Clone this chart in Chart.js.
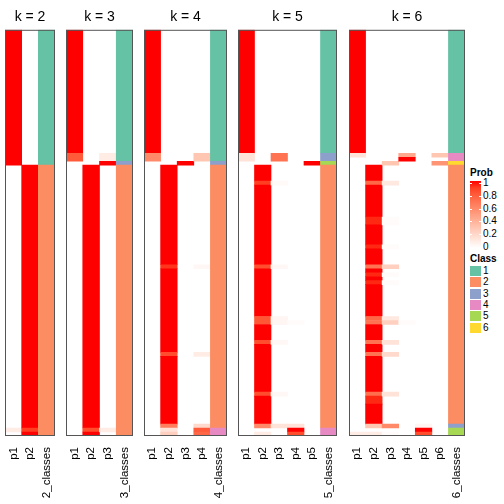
<!DOCTYPE html>
<html>
<head>
<meta charset="utf-8">
<script src="https://cdn.jsdelivr.net/npm/chart.js@4.4.1/dist/chart.umd.min.js"></script>
<style>
body { margin: 0; background: #fff; width: 504px; height: 504px; position: relative; overflow: hidden;
       font-family: "Liberation Sans", Arial, sans-serif; }
canvas { position: absolute; top: 0; }
.lg { position: absolute; font-size: 10px; line-height: 10px; color: #000; white-space: nowrap; }
.lgt { font-weight: bold; }
</style>
</head>
<body>
<canvas id="c2" width="50" height="504" style="left:5px"></canvas>
<canvas id="c3" width="67" height="504" style="left:66px"></canvas>
<canvas id="c4" width="83" height="504" style="left:144px"></canvas>
<canvas id="c5" width="99" height="504" style="left:238px"></canvas>
<canvas id="c6" width="116" height="504" style="left:349px"></canvas>
<div id="legend"></div>
<script>
// rows are samples, top to bottom; each column is a list of [fromRow, toRow, prob]
// rows not listed have prob 0
const nRows = 102

const k2_p1 = [[0, 33, 1], [100, 100, 0.1]]
const k2_p2 = [[34, 99, 1], [100, 100, 0.9], [101, 101, 1]]
const k2_classes = [[0, 33, 1], [34, 101, 2]]

const k3_p1 = [[0, 30, 1], [31, 32, 0.8]]
const k3_p2 = [[34, 99, 1], [100, 100, 0.85], [101, 101, 1]]
const k3_p3 = [[31, 32, 0.1], [33, 33, 1], [100, 100, 0.1]]
const k3_classes = [[0, 32, 1], [33, 33, 3], [34, 101, 2]]

const k4_p1 = [[0, 30, 1], [31, 32, 0.6]]
const k4_p2 = [[34, 58, 1], [59, 59, 0.92], [60, 80, 1], [81, 81, 0.85], [82, 98, 1],
               [99, 99, 0.65], [100, 100, 0.15], [101, 101, 0.25]]
const k4_p3 = [[33, 33, 1]]
const k4_p4 = [[31, 32, 0.3], [59, 59, 0.04], [81, 81, 0.1], [99, 99, 0.2], [100, 100, 0.8], [101, 101, 0.75]]
const k4_classes = [[0, 32, 1], [33, 33, 3], [34, 99, 2], [100, 101, 4]]

const k5_p1 = [[0, 30, 1], [31, 32, 0.15]]
const k5_p2 = [[34, 37, 1], [38, 38, 0.9], [39, 58, 1], [59, 59, 0.85], [60, 71, 1], [72, 73, 0.82],
               [74, 77, 1], [78, 78, 0.85], [79, 90, 1], [91, 91, 0.85], [92, 98, 1], [99, 99, 0.6],
               [101, 101, 0.1]]
const k5_p3 = [[31, 32, 0.7], [38, 38, 0.03], [59, 59, 0.04], [72, 73, 0.05], [78, 78, 0.04],
               [91, 91, 0.04], [99, 99, 0.15]]
const k5_p4 = [[73, 73, 0.02], [99, 99, 0.15], [100, 100, 1], [101, 101, 0.85]]
const k5_p5 = [[33, 33, 1]]
const k5_classes = [[0, 30, 1], [31, 32, 3], [33, 33, 5], [34, 99, 2], [100, 101, 4]]

const k6_p1 = [[0, 30, 1], [31, 31, 0.15], [101, 101, 0.1]]
const k6_p2 = [[34, 37, 1], [38, 38, 0.75], [39, 46, 1], [47, 48, 0.95], [49, 53, 1], [54, 54, 0.95],
               [55, 58, 1], [59, 59, 0.7], [60, 60, 1], [61, 61, 0.95], [62, 62, 1], [63, 63, 0.95],
               [64, 71, 1], [72, 72, 0.75], [73, 73, 0.7], [74, 77, 1], [78, 78, 0.7], [79, 80, 1],
               [81, 81, 0.7], [82, 90, 1], [91, 91, 0.72], [92, 93, 0.95], [94, 98, 1], [99, 99, 0.3],
               [101, 101, 0.1]]
const k6_p3 = [[33, 33, 0.3], [38, 38, 0.12], [47, 48, 0.02], [54, 54, 0.02], [59, 59, 0.25],
               [61, 61, 0.02], [63, 63, 0.02], [72, 72, 0.12], [73, 73, 0.25], [78, 78, 0.15],
               [81, 81, 0.2], [91, 91, 0.15], [99, 99, 0.6], [101, 101, 0.02]]
const k6_p4 = [[31, 31, 0.45], [32, 32, 1], [73, 73, 0.02]]
const k6_p5 = [[99, 99, 0.05], [100, 100, 1], [101, 101, 0.85]]
const k6_p6 = [[31, 31, 0.3], [33, 33, 0.55]]
const k6_classes = [[0, 30, 1], [31, 32, 4], [33, 33, 6], [34, 98, 2], [99, 99, 3], [100, 101, 5]]

const classColors = ['#66C2A5', '#FC8D62', '#8DA0CB', '#E78AC3', '#A6D854', '#FFD92F']
const classLabels = ['1', '2', '3', '4', '5', '6']
const probTicks = ['1', '0.8', '0.6', '0.4', '0.2', '0']

const panels = [
    { k: 2, id: 'c2', probs: [k2_p1, k2_p2], classes: k2_classes },
    { k: 3, id: 'c3', probs: [k3_p1, k3_p2, k3_p3], classes: k3_classes },
    { k: 4, id: 'c4', probs: [k4_p1, k4_p2, k4_p3, k4_p4], classes: k4_classes },
    { k: 5, id: 'c5', probs: [k5_p1, k5_p2, k5_p3, k5_p4, k5_p5], classes: k5_classes },
    { k: 6, id: 'c6', probs: [k6_p1, k6_p2, k6_p3, k6_p4, k6_p5, k6_p6], classes: k6_classes }
]

// white -> red, interpolated in LAB like colorRamp2
function labToRgb(L, a, b) {
    const fy = (L + 16) / 116, fx = fy + a / 500, fz = fy - b / 200
    const f = t => t ** 3 > 0.008856 ? t ** 3 : (t - 16 / 116) / 7.787
    const X = 0.95047 * f(fx), Y = f(fy), Z = 1.08883 * f(fz)
    const lin = [
        3.2404542 * X - 1.5371385 * Y - 0.4985314 * Z,
        -0.9692660 * X + 1.8760108 * Y + 0.0415560 * Z,
        0.0556434 * X - 0.2040259 * Y + 1.0572252 * Z
    ]
    const rgb = lin.map(c => {
        c = Math.min(1, Math.max(0, c))
        c = c <= 0.0031308 ? 12.92 * c : 1.055 * Math.pow(c, 1 / 2.4) - 0.055
        return Math.round(c * 255)
    })
    return 'rgb(' + rgb.join(',') + ')'
}
function probColor(v) {
    return labToRgb(100 + (53.2408 - 100) * v, 80.0925 * v, 67.2032 * v)
}

const borderPlugin = {
    id: 'panelBorder',
    afterDatasetsDraw(chart) {
        const a = chart.chartArea, ctx = chart.ctx
        ctx.save()
        ctx.strokeStyle = '#555'
        ctx.lineWidth = 1
        ctx.strokeRect(a.left + 0.5, a.top + 0.5, a.right - a.left - 1, a.bottom - a.top - 1)
        ctx.restore()
    }
}

panels.forEach(p => {
    const labels = p.probs.map((c, i) => 'p' + (i + 1)).concat([p.k + '_classes'])
    const bars = []
    p.probs.forEach((col, i) => {
        col.forEach(([from, to, v]) => {
            if (v > 0) bars.push({ x: labels[i], y: [from, to + 1], c: probColor(v) })
        })
    })
    p.classes.forEach(([from, to, cl]) => {
        bars.push({ x: labels[labels.length - 1], y: [from, to + 1], c: classColors[cl - 1] })
    })

    new Chart(document.getElementById(p.id), {
        type: 'bar',
        data: {
            labels: labels,
            datasets: [{
                data: bars,
                backgroundColor: ctx => ctx.raw ? ctx.raw.c : '#fff',
                borderWidth: 0,
                barPercentage: 1,
                categoryPercentage: 1
            }]
        },
        options: {
            responsive: false,
            devicePixelRatio: 1,
            animation: false,
            layout: { padding: 0 },
            plugins: {
                legend: { display: false },
                tooltip: { enabled: false },
                title: {
                    display: true,
                    text: 'k = ' + p.k,
                    color: '#000',
                    font: { family: '"Liberation Sans", Arial, sans-serif', size: 14, weight: 'normal', lineHeight: 1.2 },
                    padding: { top: 9, bottom: 4 }
                }
            },
            scales: {
                x: {
                    type: 'category',
                    grid: { display: false },
                    border: { display: false },
                    ticks: {
                        minRotation: 90,
                        maxRotation: 90,
                        autoSkip: false,
                        padding: 3,
                        color: '#000',
                        font: { family: '"Liberation Sans", Arial, sans-serif', size: 11.5 }
                    },
                    afterFit: s => {
                        s.height = 68
                        s.paddingLeft = 0
                        s.paddingRight = 0
                    }
                },
                y: {
                    type: 'linear',
                    min: 0,
                    max: nRows,
                    reverse: true,
                    display: false
                }
            }
        },
        plugins: [borderPlugin]
    })
})

// legends
const lg = document.getElementById('legend')
function addDiv(cls, text, left, top, css) {
    const d = document.createElement('div')
    d.className = cls
    d.textContent = text
    d.style.left = left + 'px'
    d.style.top = top + 'px'
    if (css) Object.assign(d.style, css)
    lg.appendChild(d)
    return d
}
addDiv('lg lgt', 'Prob', 470, 168)
const stops = []
for (let i = 0; i <= 10; i++) stops.push(probColor(1 - i / 10) + ' ' + (i * 10) + '%')
addDiv('lg', '', 470, 181, { width: '11px', height: '67px', background: 'linear-gradient(' + stops.join(',') + ')' })
probTicks.forEach((t, i) => {
    const y = 183 + i * 12.8
    addDiv('lg', t, 483, y - 5)
    addDiv('lg', '', 470, y, { width: '2px', height: '1px', background: '#fff' })
    addDiv('lg', '', 479, y, { width: '2px', height: '1px', background: '#fff' })
})
addDiv('lg lgt', 'Class', 470, 254)
classLabels.forEach((t, i) => {
    const y = 266 + i * 11.3
    addDiv('lg', '', 470, y, { width: '11px', height: '10px', background: classColors[i] })
    addDiv('lg', t, 483, y)
})
</script>
</body>
</html>
